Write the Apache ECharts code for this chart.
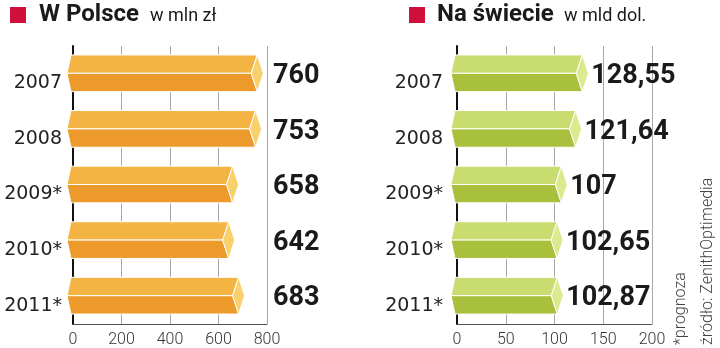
<!DOCTYPE html>
<html>
<head>
<meta charset="utf-8">
<script src="https://cdn.jsdelivr.net/npm/echarts@6/dist/echarts.min.js"></script>
<style>
  html, body { margin: 0; padding: 0; background: #fff; }
  #chart { width: 720px; height: 348px; }
</style>
</head>
<body>
<div id="chart"></div>
<script>
// Advertising spend: Poland (mln zł) and worldwide (mld dol.)
const years = ['2007', '2008', '2009*', '2010*', '2011*'];
const polandValues = [760, 753, 658, 642, 683];
const worldValues = [128.55, 121.64, 107, 102.65, 102.87];
const polandAxis = { min: 0, max: 800, interval: 200 };
const worldAxis = { min: 0, max: 200, interval: 50 };

const orange = { top: '#f4b444', bottom: '#ec9a2b', cap: '#f8d06c' };
const green = { top: '#c8dc70', bottom: '#a8c03c', cap: '#dce98f' };

function fmt(v) {
  return Number.isInteger(v) ? String(v) : v.toFixed(2).replace('.', ',');
}

// Prism-shaped bar: light upper face, darker lower face, end cap on the right.
// labelAtAxisEnd: put the value label just past the axis maximum instead of the bar end.
function prismRenderer(colors, axisMax, labelAtAxisEnd) {
  return function (params, api) {
    const v = api.value(0);
    const cat = api.value(1);
    const start = api.coord([0, cat]);
    const end = api.coord([v, cat]);
    const band = api.size([0, 1])[1];
    const h = band * 0.66;
    const yc = start[1] - 0.5;
    const yt = yc - h / 2, yb = yc + h / 2;
    const x0 = start[0], xe = end[0];
    const stroke = { stroke: '#fff', lineWidth: 1 };
    const labelX = labelAtAxisEnd ? api.coord([axisMax, cat])[0] + 6 : xe + 9;
    return {
      type: 'group',
      children: [
        { type: 'polygon', shape: { points: [[x0 - 2, yt], [xe, yt], [xe - 6, yc], [x0 - 6, yc]] },
          style: Object.assign({ fill: colors.top }, stroke) },
        { type: 'polygon', shape: { points: [[x0 - 6, yc], [xe - 6, yc], [xe, yb], [x0 - 2, yb]] },
          style: Object.assign({ fill: colors.bottom }, stroke) },
        { type: 'polygon', shape: { points: [[xe, yt], [xe + 6, yc], [xe, yb], [xe - 6, yc]] },
          style: Object.assign({ fill: colors.cap }, stroke) },
        { type: 'text', style: { text: fmt(v), x: labelX, y: yc + 3, align: 'left', verticalAlign: 'middle',
          fontFamily: 'Roboto', fontWeight: 'bold', fontSize: 27, fill: '#1a1a1a' } }
      ]
    };
  };
}

function valueAxis(gridIndex, cfg) {
  return {
    type: 'value', gridIndex: gridIndex, min: cfg.min, max: cfg.max, interval: cfg.interval,
    axisLine: { show: true, lineStyle: { color: '#555', width: 1 } },
    axisTick: { show: false },
    splitLine: { show: true, lineStyle: { color: '#a8a8a8', width: 1 } },
    axisLabel: { color: '#333', fontFamily: 'Roboto', fontWeight: 300, fontSize: 16, margin: 8 }
  };
}

function categoryAxis(gridIndex, margin) {
  return {
    type: 'category', gridIndex: gridIndex, data: years, inverse: true,
    axisLine: { show: true, lineStyle: { color: '#111', width: 2 } },
    axisTick: { show: false },
    axisLabel: { color: '#222', fontFamily: 'DejaVu Sans', fontSize: 19, margin: margin,
      verticalAlign: 'top', lineHeight: 19 }
  };
}

const chart = echarts.init(document.getElementById('chart'), null, { renderer: 'canvas' });

const titleFont = { fontFamily: 'Roboto', fontWeight: 'bold', fontSize: 24, fill: '#1a1a1a' };
const unitFont = { fontFamily: 'Roboto', fontSize: 18, fill: '#1a1a1a' };
const noteFont = { fontFamily: 'Roboto', fontWeight: 300, fontSize: 16, fill: '#444' };

chart.setOption({
  animation: false,
  backgroundColor: '#fff',
  grid: [
    { left: 73, width: 194, top: 46, height: 280 },
    { left: 457, width: 195, top: 46, height: 280 }
  ],
  xAxis: [valueAxis(0, polandAxis), valueAxis(1, worldAxis)],
  yAxis: [categoryAxis(0, 11), categoryAxis(1, 14)],
  series: [
    { type: 'custom', xAxisIndex: 0, yAxisIndex: 0, clip: false,
      data: polandValues.map((v, i) => [v, i]), encode: { x: 0, y: 1 },
      renderItem: prismRenderer(orange, polandAxis.max, true) },
    { type: 'custom', xAxisIndex: 1, yAxisIndex: 1, clip: false,
      data: worldValues.map((v, i) => [v, i]), encode: { x: 0, y: 1 },
      renderItem: prismRenderer(green, worldAxis.max, false) }
  ],
  graphic: [
    { type: 'rect', shape: { x: 10, y: 7, width: 16, height: 16 }, style: { fill: '#d0103a' } },
    { type: 'text', x: 39, y: 15, style: Object.assign({ text: 'W Polsce', verticalAlign: 'middle' }, titleFont) },
    { type: 'text', x: 150, y: 16, style: Object.assign({ text: 'w mln zł', verticalAlign: 'middle' }, unitFont) },
    { type: 'rect', shape: { x: 409, y: 7, width: 16, height: 16 }, style: { fill: '#d0103a' } },
    { type: 'text', x: 437, y: 15, style: Object.assign({ text: 'Na świecie', verticalAlign: 'middle' }, titleFont) },
    { type: 'text', x: 564, y: 16, style: Object.assign({ text: 'w mld dol.', verticalAlign: 'middle' }, unitFont) },
    { type: 'text', x: 681, y: 345, rotation: Math.PI / 2,
      style: Object.assign({ text: '*prognoza', align: 'left', verticalAlign: 'middle' }, noteFont) },
    { type: 'text', x: 708, y: 345, rotation: Math.PI / 2,
      style: Object.assign({ text: 'źródło: ZenithOptimedia', align: 'left', verticalAlign: 'middle' }, noteFont) }
  ]
});
</script>
</body>
</html>
